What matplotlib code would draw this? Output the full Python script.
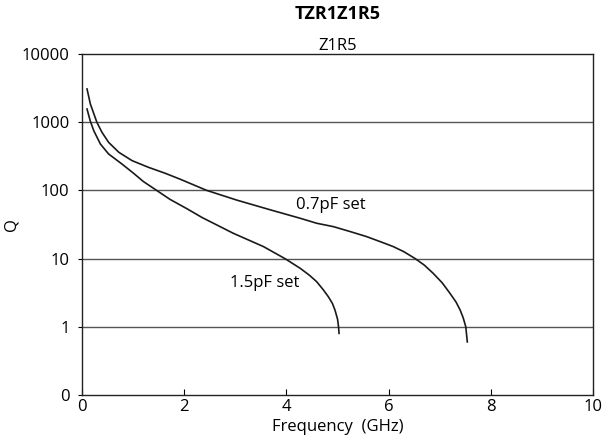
"""Q vs frequency chart for TZR1Z1R5 (Z1R5)."""
import matplotlib

matplotlib.use("Agg")
import matplotlib.pyplot as plt  # noqa: E402
from matplotlib.ticker import FixedLocator, FixedFormatter, NullLocator  # noqa: E402

plt.rcParams["font.family"] = ["Open Sans", "DejaVu Sans"]

# 0.7pF set (GHz, Q)
f_07 = [0.098, 0.163, 0.29, 0.39, 0.52, 0.72, 0.98, 1.30, 1.63, 1.92, 2.44,
        3.03, 3.68, 4.27, 4.59, 4.92, 5.24, 5.57, 5.90, 6.09, 6.30, 6.52,
        6.70, 6.87, 7.05, 7.20, 7.32, 7.40, 7.46, 7.51, 7.54]
q_07 = [3070, 1850, 1000, 711, 507, 362, 273, 218, 178, 146, 100,
        72, 52, 39, 33, 29.4, 25, 21, 17, 15, 12.6, 10,
        8.0, 6.1, 4.4, 3.1, 2.3, 1.76, 1.35, 1.0, 0.6]

# 1.5pF set
f_15 = [0.098, 0.16, 0.23, 0.36, 0.52, 0.78, 1.01, 1.20, 1.46, 1.72, 2.05,
        2.35, 2.96, 3.55, 3.97, 4.27, 4.45, 4.59, 4.72, 4.82, 4.90, 4.95,
        5.00, 5.02, 5.03]
q_15 = [1560, 1050, 750, 478, 342, 244, 178, 135, 100, 74, 54,
        40, 23.5, 15, 10, 7.2, 5.7, 4.6, 3.5, 2.76, 2.2, 1.76,
        1.3, 1.0, 0.8]

y_ticks = [0.1, 1, 10, 100, 1000, 10000]
y_labels = ["0", "1", "10", "100", "1000", "10000"]
x_ticks = [0, 2, 4, 6, 8, 10]

fig = plt.figure(figsize=(6.13, 4.43), dpi=100)
ax = fig.add_axes([0.1338, 0.1084, 0.8336, 0.7697])

ax.set_yscale("log")
ax.set_xlim(0, 10)
ax.set_ylim(0.1, 10000)

for q in [1, 10, 100, 1000]:
    ax.axhline(q, color="#555555", lw=1.0, zorder=1)

ax.plot(f_07, q_07, color="#1a1a1a", lw=1.2, zorder=3)
ax.plot(f_15, q_15, color="#1a1a1a", lw=1.2, zorder=3)

ax.text(4.19, 61, "0.7pF set", fontsize=12, ha="left", va="center")
ax.text(2.90, 4.4, "1.5pF set", fontsize=12, ha="left", va="center")

ax.yaxis.set_major_locator(FixedLocator(y_ticks))
ax.yaxis.set_major_formatter(FixedFormatter(y_labels))
ax.yaxis.set_minor_locator(NullLocator())
ax.set_xticks(x_ticks)
ax.tick_params(axis="y", direction="out", length=3, labelsize=12, pad=6)
ax.tick_params(axis="x", direction="in", length=4, labelsize=12, top=False, pad=3)

for sp in ax.spines.values():
    sp.set_color("#222222")
    sp.set_linewidth(1.0)

ax.set_xlabel("Frequency  (GHz)", fontsize=12, labelpad=3)
ax.set_ylabel("Q", fontsize=12)
ax.yaxis.set_label_coords(-0.123, 0.5)
ax.set_title("Z1R5", fontsize=12, pad=1)
fig.text(0.55, 0.968, "TZR1Z1R5", fontsize=13, fontweight="bold",
         ha="center", va="center")

fig.savefig("out.png", dpi=100)
